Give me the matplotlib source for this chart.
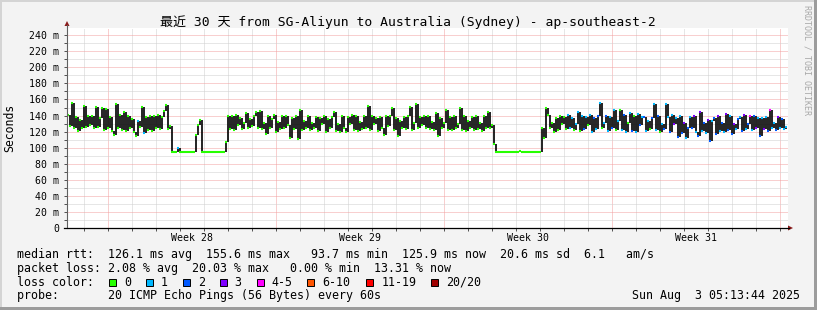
import numpy as np
import matplotlib.pyplot as plt
from matplotlib.patches import Rectangle, Polygon
from matplotlib.lines import Line2D

# --- data: 2-hour median rtt (ms) over the last 30 days, one row per day ---
rtt_ms = [
    141, 127, 156, 124, 138, 121, 135, 124, 152, 126, 140, 128,   # day 0
    139, 124, 151, 126, 137, 149, 122, 148, 125, 138, 121, 116,
    155, 124, 141, 122, 145, 121, 139, 125, 136, 119, 114, 133,
    126, 151, 118, 138, 122, 140, 121, 139, 124, 141, 123, 138,
    146, 153, 123, 127, 94, 94, 94, 100, 94, 94, 94, 94,
    94, 94, 94, 94, 116, 128, 135, 94, 94, 94, 94, 94,
    94, 94, 94, 94, 94, 94, 94, 107, 139, 123, 140, 122,
    141, 128, 137, 123, 131, 143, 124, 136, 127, 139, 145, 125,
    146, 123, 131, 117, 139, 124, 136, 141, 120, 132, 123, 140,
    124, 139, 128, 112, 137, 123, 140, 111, 147, 122, 133, 125,
    140, 122, 131, 124, 138, 121, 137, 129, 139, 120, 136, 124,   # day 10
    138, 144, 121, 130, 119, 139, 124, 120, 138, 129, 141, 122,
    139, 121, 132, 123, 140, 124, 152, 122, 139, 130, 137, 121,
    138, 125, 116, 139, 127, 140, 150, 122, 137, 114, 133, 124,
    138, 123, 140, 151, 122, 131, 154, 124, 138, 128, 140, 124,
    140, 123, 132, 122, 143, 115, 137, 124, 131, 147, 122, 138,
    122, 139, 124, 130, 150, 122, 139, 121, 133, 124, 138, 122,
    140, 123, 131, 121, 139, 124, 145, 124, 128, 105, 94, 94,
    94, 94, 94, 94, 94, 94, 94, 94, 94, 94, 96, 94,
    94, 94, 94, 94, 94, 95, 94, 94, 94, 124, 112, 149,
    141, 124, 131, 120, 137, 122, 140, 129, 138, 123, 141, 124,   # day 20
    137, 122, 130, 145, 121, 140, 123, 138, 128, 141, 120, 137,
    123, 139, 156, 124, 131, 140, 121, 138, 124, 147, 122, 133,
    147, 122, 141, 120, 131, 143, 121, 139, 119, 142, 128, 138,
    138, 121, 133, 123, 137, 154, 122, 139, 119, 130, 123, 155,
    138, 120, 141, 129, 137, 113, 139, 118, 131, 112, 124, 138,
    124, 139, 119, 114, 145, 121, 131, 118, 135, 108, 133, 137,
    117, 140, 121, 131, 119, 142, 122, 139, 117, 130, 123, 136,
    138, 121, 141, 123, 130, 139, 122, 140, 124, 137, 114, 137,
    123, 138, 121, 147, 124, 131, 122, 138, 124, 136, 123, 126,
]
# loss-colour index per step (0 = no loss, 1 = one ping lost, ...)
loss_idx = [
    0, 0, 0, 0, 0, 0, 0, 0, 0, 0, 0, 0,
    0, 0, 0, 0, 0, 0, 0, 0, 0, 0, 0, 0,
    0, 0, 0, 0, 0, 0, 0, 0, 0, 0, 0, 1,
    0, 0, 1, 0, 0, 0, 0, 0, 0, 0, 0, 0,
    0, 0, 0, 0, 0, 0, 0, 1, 0, 0, 0, 0,
] + [0] * 12 * 15 + [
    0, 0, 0, 0, 0, 0, 0, 0, 0, 0, 1, 1,   # day 20
    1, 0, 1, 1, 0, 1, 2, 1, 0, 1, 1, 2,
    1, 2, 1, 0, 1, 2, 1, 1, 2, 1, 0, 1,
    0, 1, 2, 1, 0, 1, 2, 0, 1, 1, 2, 1,
    2, 1, 1, 0, 2, 1, 1, 2, 0, 1, 2, 1,
    1, 2, 1, 3, 1, 2, 1, 2, 3, 1, 2, 1,
    2, 3, 1, 2, 3, 1, 2, 1, 3, 2, 1, 2,
    2, 3, 1, 2, 1, 3, 2, 1, 2, 3, 1, 2,
    1, 2, 3, 1, 2, 4, 1, 2, 3, 1, 2, 1,
    3, 1, 2, 4, 1, 1, 2, 3, 1, 2, 1, 1,
]
step_hours = 2

loss_labels = ["0", "1", "2", "3", "4-5", "6-10", "11-19", "20/20"]
loss_colors = ["#26ff00", "#00b8ff", "#0059ff", "#7e00ff", "#ff00ff", "#ff5500", "#ff0000", "#a00000"]
week_labels = ["Week 28", "Week 29", "Week 30", "Week 31"]

title = "最近 30 天 from SG-Aliyun to Australia (Sydney) - ap-southeast-2"
median_line = "median rtt:  126.1 ms avg  155.6 ms max   93.7 ms min  125.9 ms now  20.6 ms sd  6.1   am/s"
loss_line = "packet loss: 2.08 % avg  20.03 % max   0.00 % min  13.31 % now"
probe_line = "probe:       20 ICMP Echo Pings (56 Bytes) every 60s"
stamp = "Sun Aug  3 05:13:44 2025"

W, H = 817, 310
MONO = "DejaVu Sans Mono"


def fx(x):
    return x / W


def fy(y):
    return 1 - y / H


fig = plt.figure(figsize=(W / 100, H / 100), dpi=100, facecolor="#f3f3f3")

# frame around the image
fig.add_artist(Rectangle((0, fy(2)), 1, 2 / H, transform=fig.transFigure, color="#d4d4d4", lw=0))
fig.add_artist(Rectangle((0, 0), 2 / W, 1, transform=fig.transFigure, color="#d4d4d4", lw=0))
fig.add_artist(Rectangle((0, 0), 1, 3 / H, transform=fig.transFigure, color="#9c9c9c", lw=0))
fig.add_artist(Rectangle((fx(W - 3), 0), 3 / W, 1, transform=fig.transFigure, color="#9c9c9c", lw=0))

ax = fig.add_axes([fx(67), fy(228), (788 - 67) / W, (228 - 28) / H])
ax.set_facecolor("white")
ax.set_xlim(0, 721)
ax.set_ylim(0, 249)
for s in ax.spines.values():
    s.set_visible(False)

# grid: days (gray) and weeks (red)
ax.set_xticks(np.arange(41, 721, 168))
ax.set_xticks(np.arange(17, 721, 24), minor=True)
ax.set_xticklabels([])
yt = np.arange(0, 241, 20)
ax.set_yticks(yt)
ax.set_yticks(np.arange(10, 241, 20), minor=True)
ax.set_yticklabels([f"{v} m" if v else "0" for v in yt], fontfamily=MONO, fontsize=7.1)
ax.tick_params(axis="both", which="both", length=2.2, width=0.72, color="#555555", pad=3.5)
ax.grid(which="major", color="#f2a0a0", ls=(0, (1, 1)), lw=0.72)
ax.grid(which="minor", color="#cfcfcf", ls=(0, (1, 1)), lw=0.72)
ax.set_axisbelow(True)

# median: black bar from previous step to this one, tipped with the loss colour
vals = np.array(rtt_ms, dtype=float)
xs = np.arange(len(vals)) * step_hours + step_hours / 2
prev = np.r_[vals[0], vals[:-1]]
ax.vlines(xs, prev, vals, color="#111111", lw=1.3, zorder=3)
ax.hlines(vals, xs - step_hours / 2, xs + step_hours / 2,
          colors=[loss_colors[i] for i in loss_idx], lw=1.5, zorder=4, capstyle="butt")

# week labels under the axis, centred on each week
for i, lab in enumerate(week_labels):
    ax.text(41 + 84 + 168 * i, -0.063, lab, transform=ax.get_xaxis_transform(),
            ha="center", va="baseline", fontsize=7.1, family=MONO)

# axes with arrows
fig.add_artist(Line2D([fx(67), fx(67)], [fy(228), fy(25)], transform=fig.transFigure, color="#606060", lw=0.8))
fig.add_artist(Line2D([fx(64), fx(789)], [fy(228), fy(228)], transform=fig.transFigure, color="black", lw=0.9))
fig.add_artist(Polygon([(fx(64.5), fy(26)), (fx(69.5), fy(26)), (fx(67), fy(21))], closed=True,
                       transform=fig.transFigure, color="#8b1a1a", lw=0))
fig.add_artist(Polygon([(fx(788), fy(225.5)), (fx(788), fy(230.5)), (fx(793), fy(228))], closed=True,
                       transform=fig.transFigure, color="#8b1a1a", lw=0))

fig.text(fx(408), fy(26), title, ha="center", va="baseline", fontsize=9.4,
         family=[MONO, "Noto Sans CJK SC"])
fig.text(fx(10), fy(128), "Seconds", rotation=90, ha="center", va="center", fontsize=8.3, family=MONO)
fig.text(fx(807), fy(5), "RRDTOOL / TOBI OETIKER", rotation=270, ha="center", va="top",
         fontsize=6.0, family=MONO, color="#a8a8a8")

# legend block
fig.text(fx(16.7), fy(257.7), median_line, ha="left", va="baseline", fontsize=8.35, family=MONO)
fig.text(fx(16.7), fy(271.6), loss_line, ha="left", va="baseline", fontsize=8.35, family=MONO)
fig.text(fx(16.7), fy(285.5), "loss color:", ha="left", va="baseline", fontsize=8.35, family=MONO)
box_x = [109, 145.7, 182.7, 219.7, 256.7, 307.3, 366.3, 430.7]
for bx, lab, col in zip(box_x, loss_labels, loss_colors):
    fig.add_artist(Rectangle((fx(bx), fy(286)), 7 / W, 7 / H, transform=fig.transFigure,
                             facecolor=col, edgecolor="black", lw=0.7))
    fig.text(fx(bx + 15), fy(285.5), lab, ha="left", va="baseline", fontsize=8.35, family=MONO)
fig.text(fx(16.7), fy(299.4), probe_line, ha="left", va="baseline", fontsize=8.35, family=MONO)
fig.text(fx(800), fy(299.4), stamp, ha="right", va="baseline", fontsize=8.35, family=MONO)

fig.savefig("out.png", dpi=100, facecolor=fig.get_facecolor())
